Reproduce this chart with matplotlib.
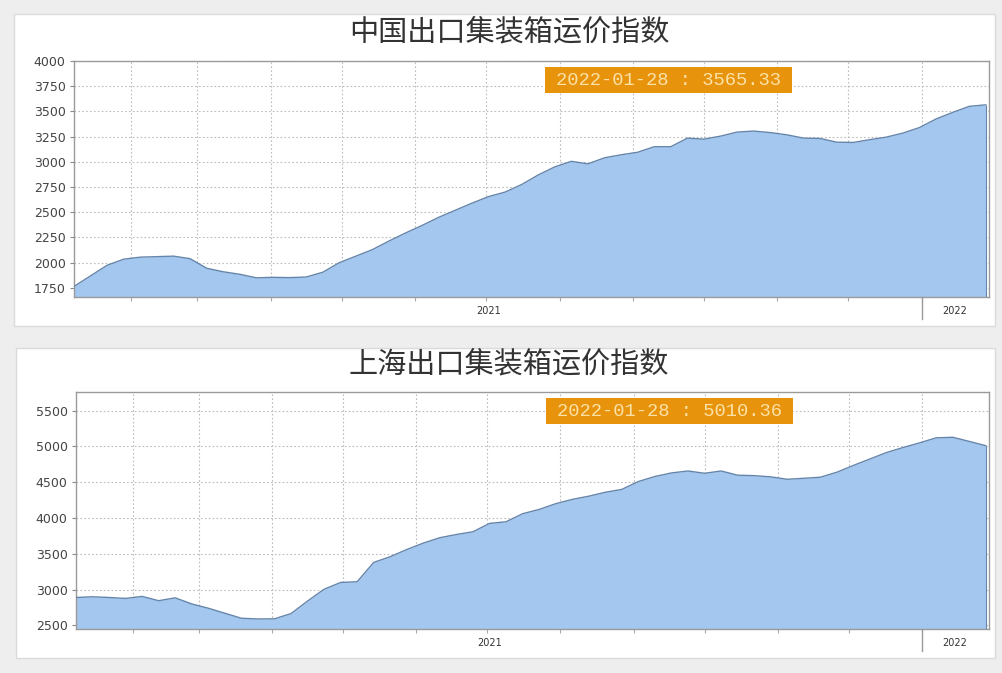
import matplotlib.pyplot as plt
import matplotlib.dates as mdates
import matplotlib.transforms as mtransforms
from matplotlib.patches import Rectangle
from matplotlib.ticker import NullFormatter
import pandas as pd

plt.rcParams['font.family'] = ['DejaVu Sans', 'Noto Sans CJK SC']

# weekly fixing dates (Fridays)
dates = pd.date_range('2021-01-08', '2022-01-28', freq='7D')

# 中国出口集装箱运价指数 CCFI
ccfi = [1765, 1870, 1975, 2035, 2055, 2060, 2065, 2040, 1945, 1910,
        1885, 1850, 1855, 1852, 1858, 1905, 2000, 2065, 2130, 2215,
        2295, 2370, 2450, 2520, 2590, 2655, 2700, 2775, 2870, 2950,
        3005, 2980, 3040, 3070, 3095, 3150, 3150, 3235, 3225, 3255,
        3295, 3305, 3290, 3268, 3235, 3232, 3195, 3192, 3220, 3245,
        3285, 3340, 3425, 3490, 3550, 3565.33]

# 上海出口集装箱运价指数 SCFI
scfi = [2890, 2900, 2890, 2877, 2905, 2845, 2885, 2800, 2740, 2670,
        2600, 2590, 2592, 2665, 2840, 3005, 3100, 3110, 3380, 3460,
        3560, 3650, 3725, 3770, 3808, 3925, 3948, 4060, 4120, 4200,
        4260, 4305, 4360, 4400, 4510, 4580, 4630, 4657, 4625, 4657,
        4598, 4592, 4575, 4541, 4555, 4570, 4640, 4735, 4825, 4915,
        4985, 5050, 5120, 5128, 5070, 5010.36]

titles = ['中国出口集装箱运价指数', '上海出口集装箱运价指数']
year_labels = ['2021', '2022']
year_label_dates = ['2021-07-02', '2022-01-15']
year_break = '2022-01-01'

fill_color = '#a4c7ef'
line_color = '#6585aa'

fig = plt.figure(figsize=(10.02, 6.73), dpi=100, facecolor='#eeeeee')

# white cards behind each chart
for (x0, y0, w, h) in [(0.014, 0.516, 0.979, 0.463), (0.016, 0.023, 0.977, 0.460)]:
    fig.add_artist(Rectangle((x0, y0), w, h, transform=fig.transFigure,
                             facecolor='white', edgecolor='#dadada', lw=1, zorder=-1))

ax1 = fig.add_axes([0.0739, 0.5587, 0.9131, 0.3507])
ax2 = fig.add_axes([0.0758, 0.0654, 0.9112, 0.3521])


def draw_panel(ax, values, title, title_y, yticks, ylim):
    ax.fill_between(dates, values, ylim[0], color=fill_color, lw=0, zorder=2)
    ax.plot(dates, values, color=line_color, lw=1, zorder=3)
    ax.vlines(dates[-1], ylim[0], values[-1], color=line_color, lw=0.8, zorder=3)

    ax.set_ylim(*ylim)
    ax.set_xlim(pd.Timestamp('2021-01-08'), pd.Timestamp('2022-01-29 08:00'))
    ax.set_yticks(yticks)
    ax.xaxis.set_major_locator(mdates.MonthLocator())
    ax.xaxis.set_major_formatter(NullFormatter())

    ax.grid(True, color='#bcbcbc', linestyle=(0, (1.5, 2)), linewidth=0.8, zorder=1)
    ax.set_axisbelow(True)
    for s in ax.spines.values():
        s.set_color('#9a9a9a')
        s.set_linewidth(1)
    ax.tick_params(axis='y', length=3, width=0.8, color='#888888', labelsize=9,
                   labelcolor='#444444', pad=3)
    ax.tick_params(axis='x', length=3, width=0.8, color='#aaaaaa')

    # year labels under the axis
    for lab, d in zip(year_labels, year_label_dates):
        ax.annotate(lab, xy=(pd.Timestamp(d), 0), xycoords=('data', 'axes fraction'),
                    xytext=(0, -14), textcoords='offset pixels',
                    ha='center', va='center', fontsize=7, color='#333333')
    trans = mtransforms.blended_transform_factory(ax.transData, ax.transAxes)
    yb = pd.Timestamp(year_break)
    ax.plot([yb, yb], [0, -0.095], transform=trans, color='#999999', lw=1, clip_on=False)

    # tooltip box with the latest value
    ax.add_patch(Rectangle((0.515, 0.865), 0.27, 0.108, transform=ax.transAxes,
                           facecolor='#e8930c', edgecolor='none', zorder=5))
    label = f"{dates[-1]:%Y-%m-%d} : {values[-1]:.2f}"
    ax.text(0.65, 0.919, label, transform=ax.transAxes, ha='center', va='center',
            fontsize=13.5, family='Liberation Mono', color='#fbe2a8', zorder=6)

    fig.text(0.508, title_y, title, ha='center', va='center', fontsize=21,
             fontweight='medium', color='#333333', family=['Noto Sans CJK SC', 'DejaVu Sans'])


draw_panel(ax1, ccfi, titles[0], 1 - 32 / 673, [1750, 2000, 2250, 2500, 2750, 3000, 3250, 3500, 3750, 4000], (1660, 4000))
draw_panel(ax2, scfi, titles[1], 1 - 364 / 673, [2500, 3000, 3500, 4000, 4500, 5000, 5500], (2450, 5760))

fig.savefig('out.png', dpi=100, facecolor=fig.get_facecolor())
